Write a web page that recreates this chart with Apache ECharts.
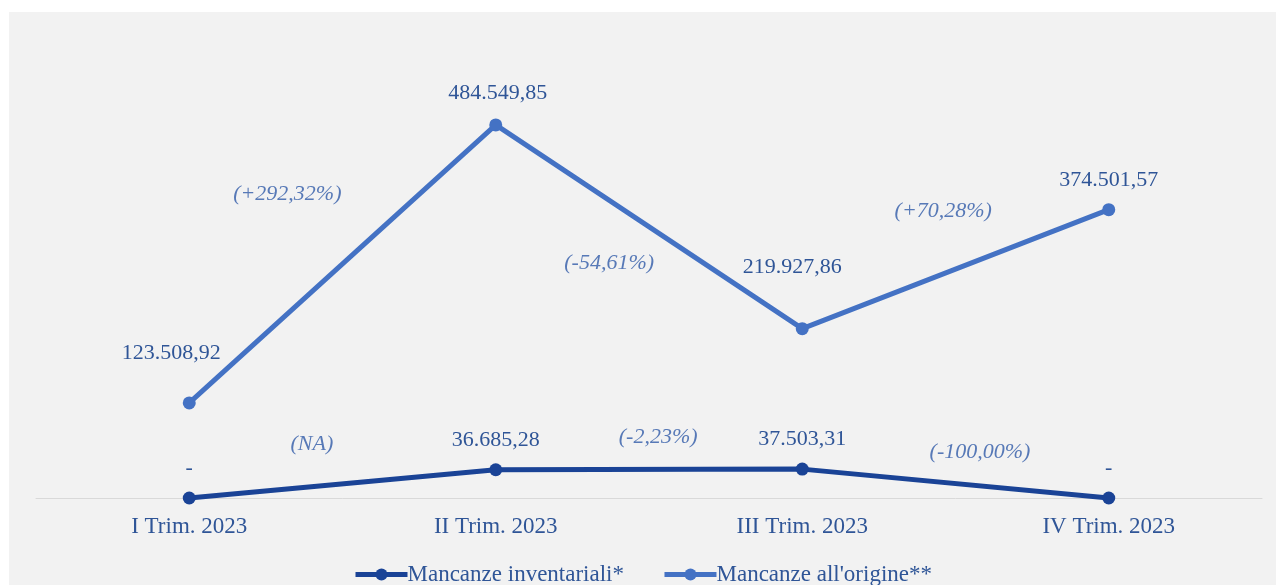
<!DOCTYPE html>
<html>
<head>
<meta charset="utf-8">
<script src="https://cdn.jsdelivr.net/npm/echarts@6/dist/echarts.min.js"></script>
<style>
html,body{margin:0;padding:0;background:#ffffff;}
#chart{position:absolute;left:9px;top:12px;width:1267px;height:573px;}
</style>
</head>
<body>
<div id="chart"></div>
<script>
// ---- data ----
var categories = ['I Trim. 2023', 'II Trim. 2023', 'III Trim. 2023', 'IV Trim. 2023'];
var inventariali = [0, 36685.28, 37503.31, 0];
var origine = [123508.92, 484549.85, 219927.86, 374501.57];
var seriesNames = ['Mancanze inventariali*', "Mancanze all'origine**"];
// percentage change annotations: [text, category position, value level]
var pctTexts = ['(+292,32%)', '(NA)', '(-54,61%)', '(-2,23%)', '(+70,28%)', '(-100,00%)'];
var pctX = [0.32, 0.40, 1.37, 1.53, 2.46, 2.58];
var pctY = [394000, 70150, 305000, 79240, 372500, 59760];

var FONT = 'Liberation Serif';
var TXT = '#2f5597';
var DARK = '#1a4396';
var LIGHT = '#4472c4';

function fmt(v) {
  if (v === 0) return '-';
  var parts = v.toFixed(2).split('.');
  var intp = parts[0].replace(/\B(?=(\d{3})+(?!\d))/g, '.');
  return intp + ',' + parts[1];
}

var origOffsets = [[-18, -20], [2, -2], [-10, -32], [0, 0]];
var origData = origine.map(function (v, i) {
  return { value: v, label: { offset: origOffsets[i] } };
});
var invData = inventariali.map(function (v) { return { value: v }; });
var pctData = pctTexts.map(function (t, i) { return { value: [pctX[i], pctY[i]], name: t }; });

var chart = echarts.init(document.getElementById('chart'));
chart.setOption({
  backgroundColor: '#f2f2f2',
  animation: false,
  textStyle: { fontFamily: FONT },
  grid: { left: 27, right: 14, top: 101, bottom: 87 },
  legend: {
    data: [
      { name: seriesNames[0], lineStyle: { width: 5 } },
      { name: seriesNames[1], lineStyle: { width: 5 } }
    ],
    top: 546,
    left: 'center',
    itemWidth: 52,
    itemHeight: 15,
    itemGap: 38,
    textStyle: { fontFamily: FONT, fontSize: 23, color: TXT, padding: [0, 0, 0, -5] }
  },
  xAxis: [{
    type: 'category',
    data: categories,
    boundaryGap: true,
    axisLine: { lineStyle: { color: '#d9d9d9', width: 1 } },
    axisTick: { show: false },
    axisLabel: { fontFamily: FONT, fontSize: 23, color: TXT, margin: 17 }
  }, {
    type: 'value',
    min: -0.5,
    max: 3.5,
    show: false
  }],
  yAxis: {
    type: 'value',
    min: 0,
    max: 500000,
    show: false,
    splitLine: { show: false }
  },
  series: [{
    name: seriesNames[0],
    type: 'line',
    data: invData,
    color: DARK,
    symbol: 'circle',
    symbolSize: 13,
    lineStyle: { width: 5, color: DARK },
    itemStyle: { color: DARK },
    label: {
      show: true, position: 'top', distance: 12,
      fontFamily: FONT, fontSize: 22, color: TXT,
      formatter: function (p) { return fmt(p.value); }
    },
    z: 3
  }, {
    name: seriesNames[1],
    type: 'line',
    data: origData,
    color: LIGHT,
    symbol: 'circle',
    symbolSize: 13,
    lineStyle: { width: 5, color: LIGHT },
    itemStyle: { color: LIGHT },
    label: {
      show: true, position: 'top', distance: 12,
      fontFamily: FONT, fontSize: 22, color: TXT,
      formatter: function (p) { return fmt(p.value); }
    },
    z: 3
  }, {
    name: 'pct',
    type: 'scatter',
    xAxisIndex: 1,
    data: pctData,
    symbolSize: 0,
    silent: true,
    label: {
      show: true, position: 'inside',
      fontFamily: FONT, fontSize: 22, fontStyle: 'italic', color: '#2f5aa8',
      formatter: function (p) { return p.name; }
    }
  }]
});
</script>
</body>
</html>
